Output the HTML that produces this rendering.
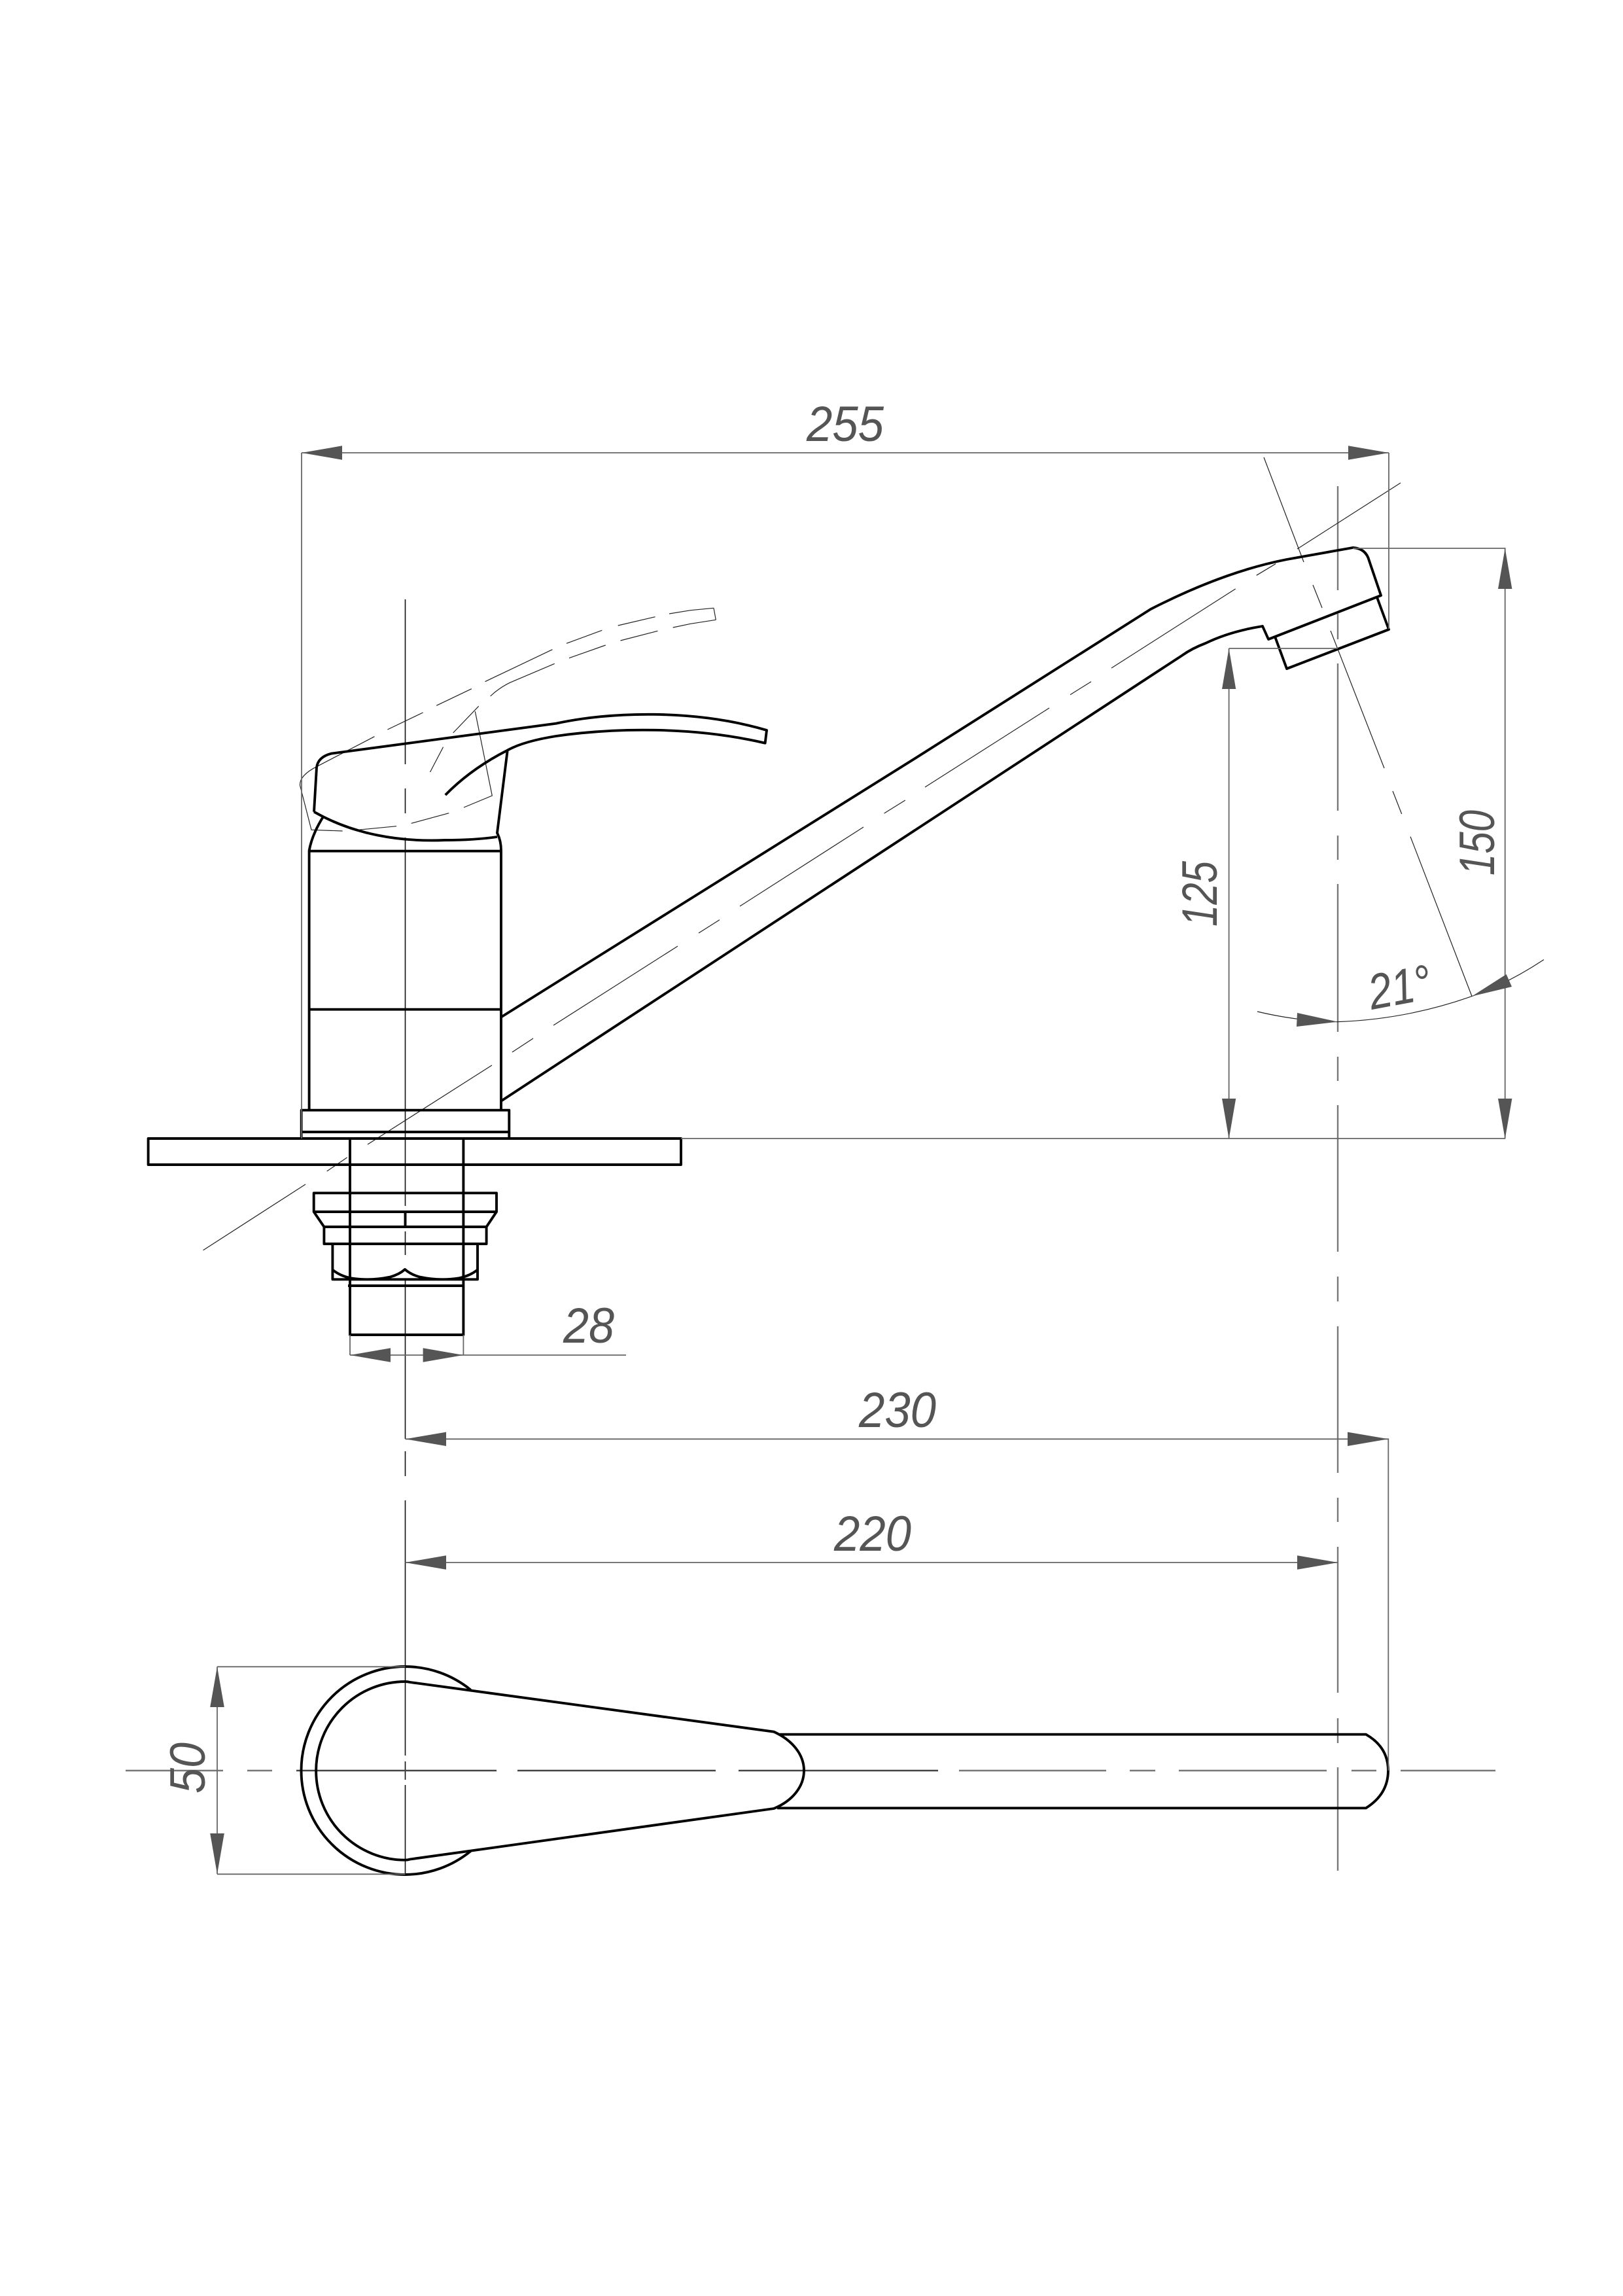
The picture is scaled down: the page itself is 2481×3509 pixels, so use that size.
<!DOCTYPE html>
<html><head><meta charset="utf-8"><style>
html,body{margin:0;padding:0;background:#fff}
svg{display:block}
text{font-family:"Liberation Sans",sans-serif;font-style:italic;font-size:76px;fill:#555}
.m{fill:none;stroke:#000;stroke-width:3.9;stroke-linejoin:round}
.t{fill:none;stroke:#222;stroke-width:1.2}
.c{fill:none;stroke:#111;stroke-width:1.6}
.g{fill:none;stroke:#777;stroke-width:2.4}
.d{fill:none;stroke:#666;stroke-width:1.8}
.a{fill:#555;stroke:none}
</style></head><body>
<svg width="2481" height="3509" viewBox="0 0 2481 3509" xmlns="http://www.w3.org/2000/svg">
<rect width="2481" height="3509" fill="#fff"/>

<!-- center lines -->
<path class="c" d="M619.5,916V1168M619.5,1205V1243M619.5,1280V1843M619.5,1882V1918M619.5,1957V2199M619.5,2218V2256M619.5,2293V2683M619.5,2692V2720M619.5,2728V2865"/>
<path class="g" d="M2045,743V902M2045,938V977M2045,1014V1239M2045,1277V1314M2045,1351V1577M2045,1615V1652M2045,1689V1913M2045,1951V1989M2045,2027V2251M2045,2289V2326M2045,2364V2587M2045,2626V2664M2045,2701V2859"/>
<path class="g" d="M192,2706H341M378,2706H416M1466,2706H1691M1727,2706H1766M1802,2706H2028M2066,2706H2104M2141,2706H2286"/>
<path fill="none" stroke="#444" stroke-width="2.4" d="M453,2706H759M791,2706H1094M1129,2706H1434"/>

<!-- spout axis -->
<path class="t" d="M310.6,1910.7L467,1810M499.7,1790L530.6,1769M562,1749L752,1628M783,1608L815,1587M846,1567L1036,1446M1068,1426L1100,1405.7M1131,1385L1320,1264M1351.6,1243L1383.8,1223M1414,1203L1604,1082M1636,1061.7L1668,1041.7M1699,1021L1888.6,900M1920.7,879.3L1950,861.7M1983,839L2141,738"/>
<!-- spray axis -->
<path class="t" d="M1932,699L1993,859M2007,894L2021,929M2034,964L2116,1174M2129,1209L2142.7,1244M2156,1278.6L2250,1522.6"/>

<!-- raised handle phantom -->
<path class="t" d="M1091,929.3L1094.3,947.3M1091,929.3L1055.8,932.7L1023,938M1001.6,942.7L944.7,956M920.3,963.3L866,983.3M844.4,992.7L741.5,1041.7M720.9,1052.7L667.2,1078.3M646.6,1089L592.4,1115M572.4,1125.7L484,1171.7Q458,1185 458.5,1200L476,1268.3L523.6,1270M547.4,1268.3L606,1262.7M628.7,1258.3L686.2,1242.7M709,1234L752.3,1216L726.3,1087.3M1094.3,947.3L1055.8,953.3L1028.7,959M1005.4,964.3L948.5,979M925.7,986L870,1005.7M847.7,1014.3L779.4,1043.3Q762,1052 749.6,1064M731.7,1079.3L692.7,1120M677.5,1141.7L657.5,1180"/>

<!-- faucet body -->
<path class="m" d="M495,1246.7Q477,1275 472.6,1300V1696.7M775.6,1148L760,1273Q766,1285 766,1300V1696.7"/>
<path class="m" stroke-width="4.6" d="M472.6,1300.7H766M472.6,1542.7H766"/>
<!-- handle -->
<path class="m" d="M480,1240.7L484,1173Q486,1157 506,1151.7L850,1105.7C930,1088 1060,1083 1172,1116L1169.6,1135.7C1060,1110 940,1112 850,1125Q800,1133 775.6,1146.7Q720,1175 680.8,1215"/>
<path class="m" d="M480,1240.7C540,1275 610,1287 680,1284Q725,1284 760,1279"/>
<!-- spout -->
<path class="m" d="M766.8,1554L1400,1158.3L1759,931C1800,910 1880,872 1967,855L2068,837Q2088,838 2093,857L2111,910L1939,977L1930,957Q1880,965 1843,983Q1822,991 1807,1001.7L766,1682.7"/>
<path class="m" d="M2105,913L2123,962L1967,1022L1949,973"/>

<!-- flange and plate -->
<path class="m" d="M460.7,1740V1696.7H778.3V1740M460.7,1730H778.3"/>
<rect class="m" x="226.6" y="1740" width="814.4" height="40"/>
<!-- stem, nuts -->
<path class="m" d="M535,1740V2040H708.4V1740M532,1965H708.4"/>
<path class="m" d="M479.7,1852V1823.3H759V1852ZM479.7,1852L495.4,1875H743.6L759,1852M495.4,1875V1901H743.6V1875M619.5,1852V1873"/>
<path class="m" d="M508.4,1901V1955.3H730V1901M508.4,1940.7Q520,1950 536,1953.3Q566,1958 596,1951.7Q610,1948 619,1940Q628,1948 642,1951.7Q672,1958 702,1953.3Q718,1950 730,1940.7"/>

<!-- top view -->
<path class="m" d="M719.6,2582.7A159,159 0 0 0 619.5,2547A159,159 0 0 0 619.5,2865A159,159 0 0 0 719.6,2829"/>
<path class="m" d="M627,2571L1183,2646.7C1212,2660 1229,2682 1229,2706C1229,2730 1212,2752 1183,2764L627,2841.5Q623,2842.7 619.5,2842.7A136.3,136.3 0 0 1 619.5,2570Q623,2570 627,2571Z"/>
<path class="m" d="M1192,2650.7H2088Q2122,2670 2122,2706Q2122,2742 2088,2763.3H1188"/>

<!-- dimension lines -->
<path class="d" d="M461,692H2123M461,692V1740M2123,692V961"/>
<path class="d" d="M1041,1740H2301M2068,838H2300.7V1740M1878.6,991H2045M1878.6,991V1740"/>
<path class="d" d="M535,2040V2071M708.4,2040V2071M535,2071H957"/>
<path class="d" d="M619.5,2199.3H2122.3V2706M619.5,2388H2045"/>
<path class="d" d="M332,2547.3H619.5M332,2864.3H619.5M332,2547.3V2864.3"/>
<path class="t" d="M1922,1546Q1985,1561 2045,1561.6Q2150,1558 2250,1522.6Q2305,1503 2360,1466.6"/>

<!-- arrowheads -->
<path class="a" d="M461,692L523,681.3V702.7Z"/>
<path class="a" d="M2123,692L2061,681.3V702.7Z"/>
<path class="a" d="M2300.7,838L2290,900H2311.4Z"/>
<path class="a" d="M2300.7,1740.5L2290,1679H2311.4Z"/>
<path class="a" d="M1878.6,991L1868,1053H1889.2Z"/>
<path class="a" d="M1878.6,1740.5L1868,1679H1889.2Z"/>
<path class="a" d="M535,2071L597,2060.3V2081.7Z"/>
<path class="a" d="M708.4,2071L646.6,2060.3V2081.7Z"/>
<path class="a" d="M619.5,2199.3L682,2188.6V2210Z"/>
<path class="a" d="M2122.3,2199.3L2060,2188.6V2210Z"/>
<path class="a" d="M619.5,2388L682,2377.3V2398.7Z"/>
<path class="a" d="M2045,2388L1983,2377.3V2398.7Z"/>
<path class="a" d="M332,2547.3L321.2,2609H342.8Z"/>
<path class="a" d="M332,2864.3L321.2,2802H342.8Z"/>
<path class="a" d="M2045,1561.6L1983,1548L1982,1569Z"/>
<path class="a" d="M2250,1522.6L2302.7,1489L2311,1508Z"/>

<!-- labels -->
<text x="1233" y="674" textLength="118" lengthAdjust="spacingAndGlyphs">255</text>
<text x="861" y="2052" textLength="78" lengthAdjust="spacingAndGlyphs">28</text>
<text x="1313" y="2181" textLength="118" lengthAdjust="spacingAndGlyphs">230</text>
<text x="1275" y="2370" textLength="118" lengthAdjust="spacingAndGlyphs">220</text>
<text transform="translate(1860,1416) rotate(-90)" textLength="100" lengthAdjust="spacingAndGlyphs">125</text>
<text transform="translate(2284,1338) rotate(-90)" textLength="100" lengthAdjust="spacingAndGlyphs">150</text>
<text transform="translate(313,2741) rotate(-90)" textLength="78" lengthAdjust="spacingAndGlyphs">50</text>
<text transform="translate(2097,1543) rotate(-10.5)" textLength="96" lengthAdjust="spacingAndGlyphs">21°</text>
</svg>
</body></html>
